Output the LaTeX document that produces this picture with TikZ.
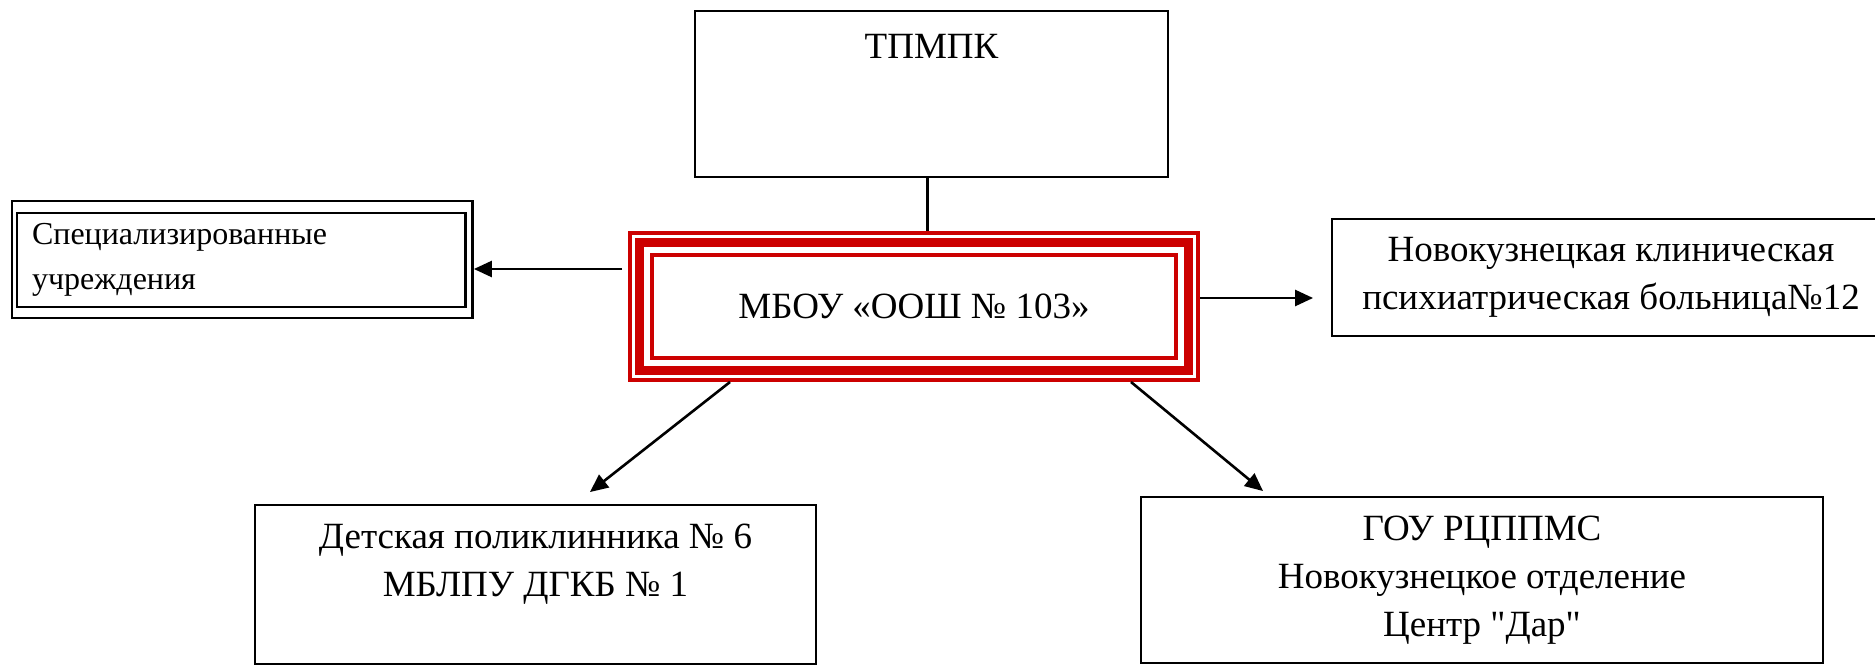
\documentclass[tikz,border=0pt]{standalone}
\usepackage{fontspec}
\setmainfont{Liberation Serif}[Ligatures=TeXOff]
\usetikzlibrary{positioning,calc,arrows.meta}
\definecolor{framered}{RGB}{204,0,0}

\begin{document}
\begin{tikzpicture}[x=1pt,y=-1pt]
    \tikzstyle{every node}=[rectangle,inner sep=0]
    \tikzstyle{block}=[draw=black,line width=2.7pt,align=center,font=\fontsize{37}{48}\selectfont]
    \tikzstyle{redframe}=[draw=framered,line width=4pt,align=center,font=\fontsize{37}{48}\selectfont]
    \tikzstyle{twin}=[draw=black,line width=2.6pt]
    \tikzstyle{link}=[line width=2.6pt,-{Triangle[length=18pt,width=16pt]}]
    \clip (0,0) rectangle (1875,666);
    {
        % top and centre
        \node[block,minimum width=473,minimum height=166] (tpmpk) at (931.5,94) {ТПМПК\\\mbox{}\\\mbox{}};
        \node[redframe,minimum width=568,minimum height=147] (mbou) at (914,306.5) {МБОУ «ООШ № 103»};
        \draw[framered,line width=9pt] ([shift={(11.5,11.5)}]mbou.north west) rectangle ([shift={(-11.5,-11.5)}]mbou.south east);
        \draw[framered,line width=4pt] ([shift={(24,24)}]mbou.north west) rectangle ([shift={(-24,-24)}]mbou.south east);

        % left, right and bottom
        \node[twin,minimum width=460.6,minimum height=117] (specout) at (242.3,259.5) {};
        \node[twin,minimum height=94,inner xsep=15,text width=418.5,align=left,font=\fontsize{32}{45}\selectfont] (spec) at (241.3,260) {Специализированные\\учреждения};
        \node[block,minimum width=558,minimum height=117] (nkpb) at (1611,277.5) {Новокузнецкая клиническая\\психиатрическая больница№12};
        \node[block,minimum width=561,minimum height=159] (detpol) at (535.5,584.5) {Детская поликлинника № 6\\МБЛПУ ДГКБ № 1\\\mbox{}};
        \node[block,minimum width=682,minimum height=166] (gouc) at (1482,580) {ГОУ РЦППМС\\Новокузнецкое отделение\\Центр "Дар"};

        \draw[line width=2.6pt] ([xshift=-4pt]tpmpk.south) -- ([xshift=-4pt]tpmpk.south |- mbou.north);
        \draw[link] ([xshift=-6pt,yshift=37.5pt]mbou.west) -- ([yshift=-9.5pt]specout.east);
        \draw[link,shorten >=17.6pt] ([yshift=8.5pt]mbou.east) -- ([yshift=-20.5pt]nkpb.west);
        \draw[link] ([xshift=102pt]mbou.south west) -- ([xshift=54.5pt,yshift=11.6pt]detpol.north);
        \draw[link] ([xshift=-69pt]mbou.south east) -- ([xshift=123.4pt,yshift=4.6pt]gouc.north west);
    }
\end{tikzpicture}
\end{document}
